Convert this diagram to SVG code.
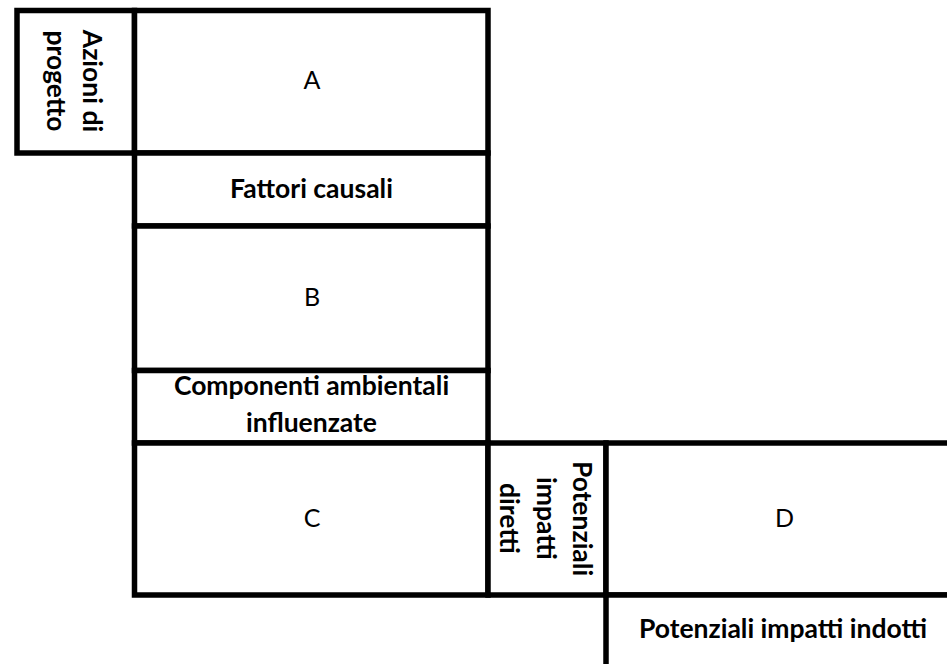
<svg xmlns="http://www.w3.org/2000/svg" width="947" height="664" viewBox="0 0 947 664">
  <style>
    .cell { fill: #ffffff; stroke: #000000; stroke-width: 5.5; }
    .lbl { font-family: Lato, "Liberation Sans", sans-serif; font-size: 25px; fill: #000000; text-anchor: middle; }
    .b { font-weight: bold; font-size: 26.5px; }
  </style>
  <rect x="0" y="0" width="947" height="664" fill="#ffffff"/>

  <!-- left column: project actions -->
  <g id="azioni">
    <rect class="cell" x="17" y="10.5" width="117.5" height="142.5"/>
    <g transform="translate(83 81) rotate(90)">
      <text class="lbl b" x="0" y="0">Azioni di</text>
      <text class="lbl b" x="0" y="36">progetto</text>
    </g>
  </g>

  <g id="a">
    <rect class="cell" x="134.5" y="10.5" width="353.5" height="142.5"/>
    <text class="lbl" x="312" y="89">A</text>
  </g>

  <g id="fattori">
    <rect class="cell" x="134.5" y="153" width="353.5" height="73"/>
    <text class="lbl b" x="311.5" y="198">Fattori causali</text>
  </g>

  <g id="b">
    <rect class="cell" x="134.5" y="226" width="353.5" height="144.5"/>
    <text class="lbl" x="312" y="306">B</text>
  </g>

  <g id="componenti">
    <rect class="cell" x="134.5" y="370.5" width="353.5" height="72.5"/>
    <text class="lbl b" x="311.5" y="395">Componenti ambientali</text>
    <text class="lbl b" x="311.5" y="432">influenzate</text>
  </g>

  <g id="c">
    <rect class="cell" x="134.5" y="443" width="353.5" height="152"/>
    <text class="lbl" x="312" y="527">C</text>
  </g>

  <!-- direct impacts: rotated label column -->
  <g id="impatti-diretti">
    <rect class="cell" x="488" y="443" width="118" height="152"/>
    <g transform="translate(573 518.5) rotate(90)">
      <text class="lbl b" x="0" y="0">Potenziali</text>
      <text class="lbl b" x="0" y="36.5">impatti</text>
      <text class="lbl b" x="0" y="73">diretti</text>
    </g>
  </g>

  <g id="d">
    <rect class="cell" x="606" y="443" width="360" height="152"/>
    <text class="lbl" x="784.5" y="527">D</text>
  </g>

  <g id="impatti-indotti">
    <rect class="cell" x="606" y="595" width="360" height="90"/>
    <text class="lbl b" x="783" y="638">Potenziali impatti indotti</text>
  </g>

  <g id="connectors"/>
</svg>
